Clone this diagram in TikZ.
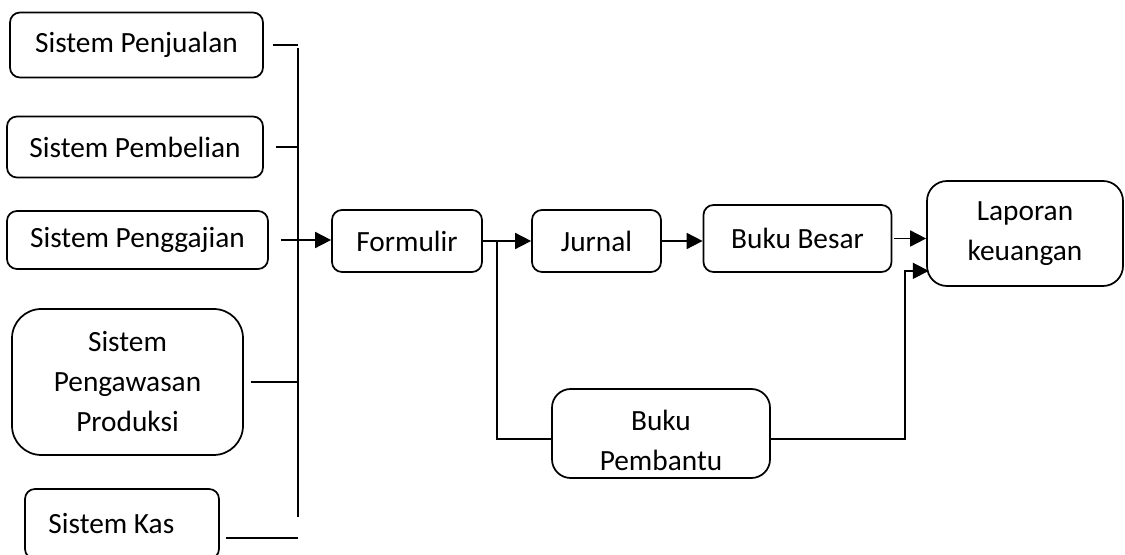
\documentclass[tikz,border=0pt]{standalone}
\usepackage{fontspec}
\setmainfont{Carlito}
\usepackage{tikz}
\usetikzlibrary{positioning, arrows.meta}

\begin{document}
\begin{tikzpicture}[x=0.75pt, y=-0.75pt, line width=1.3pt,
    every node/.style={font=\fontsize{22}{30}\selectfont},
    box/.style={draw, rounded corners=7.5pt, rectangle, inner sep=0pt, align=center},
    bigbox/.style={box, rounded corners=18pt},
    tip/.style={-{Triangle[length=12pt, width=12pt]}}]
    \useasboundingbox (0,0) rectangle (1125,555);

    % Sistem side
    \node (pjl) at (136.5, 45) [box, minimum width=189.75pt, minimum height=48.75pt] {Sistem Penjualan};
    \node (pbl) at (135, 147) [box, minimum width=192pt, minimum height=45.75pt] {Sistem Pembelian};
    \node (pgj) at (137.5, 240) [box, minimum width=195.75pt, minimum height=43.5pt] {Sistem Penggajian};
    \node (pws) at (127.5, 382) [bigbox, rounded corners=22pt, minimum width=173.25pt, minimum height=109.5pt] {Sistem \\ Pengawasan \\ Produksi};
    \node (kas) at (122, 524) [box, minimum width=145.5pt, minimum height=52.5pt] {Sistem Kas\hspace{16pt}};

    % Bus
    \coordinate (busT) at (298, 48);
    \coordinate (busB) at (298, 517);
    \coordinate (kasEnd) at (298, 538);
    \draw (busT) -- (busB);
    \draw[shorten <=6.75pt] (pjl.east) -- (pjl.east -| busT);
    \draw[shorten <=9pt] (pbl.east) -- (pbl.east -| busT);
    \draw[shorten <=5pt] (pws.east) -- (pws.east -| busT);
    \draw[shorten <=4.5pt] (kasEnd -| kas.east) -- (kasEnd);

    % Ledger side
    \node (frm) at (407, 241) [box, minimum width=112.5pt, minimum height=46.5pt] {Formulir};
    \node (jrn) at (596.5, 241) [box, minimum width=96.75pt, minimum height=46.5pt] {Jurnal};
    \node (bbs) at (797.5, 238.5) [box, minimum width=141pt, minimum height=50.25pt] {Buku Besar};
    \node (lap) at (1025, 233.5) [bigbox, rounded corners=15pt, minimum width=147pt, minimum height=78.75pt] {Laporan \\ keuangan};
    \node (bpb) at (661, 433.5) [bigbox, rounded corners=14pt, minimum width=163.5pt, minimum height=66.75pt] {\rule{0pt}{25.5pt}Buku \\ Pembantu};

    \draw[tip, shorten <=9pt] (pgj.east) -- (pgj.east -| frm.west);
    \draw[tip] (frm.east) -- (jrn.west);
    \coordinate (split) at (497, 241);
    \draw (split) |- ([yshift=-4pt]bpb.west);
    \draw[tip] (jrn.east) -- (jrn.east -| bbs.west);
    \draw[tip, shorten <=1.5pt] (bbs.east) -- (bbs.east -| lap.west);
    \coordinate (lapIn) at ([xshift=2pt, yshift=12pt]lap.south west);
    \draw[tip] ([yshift=-4pt]bpb.east) -| ([xshift=-18pt]lapIn) -- (lapIn);
\end{tikzpicture}
\end{document}
